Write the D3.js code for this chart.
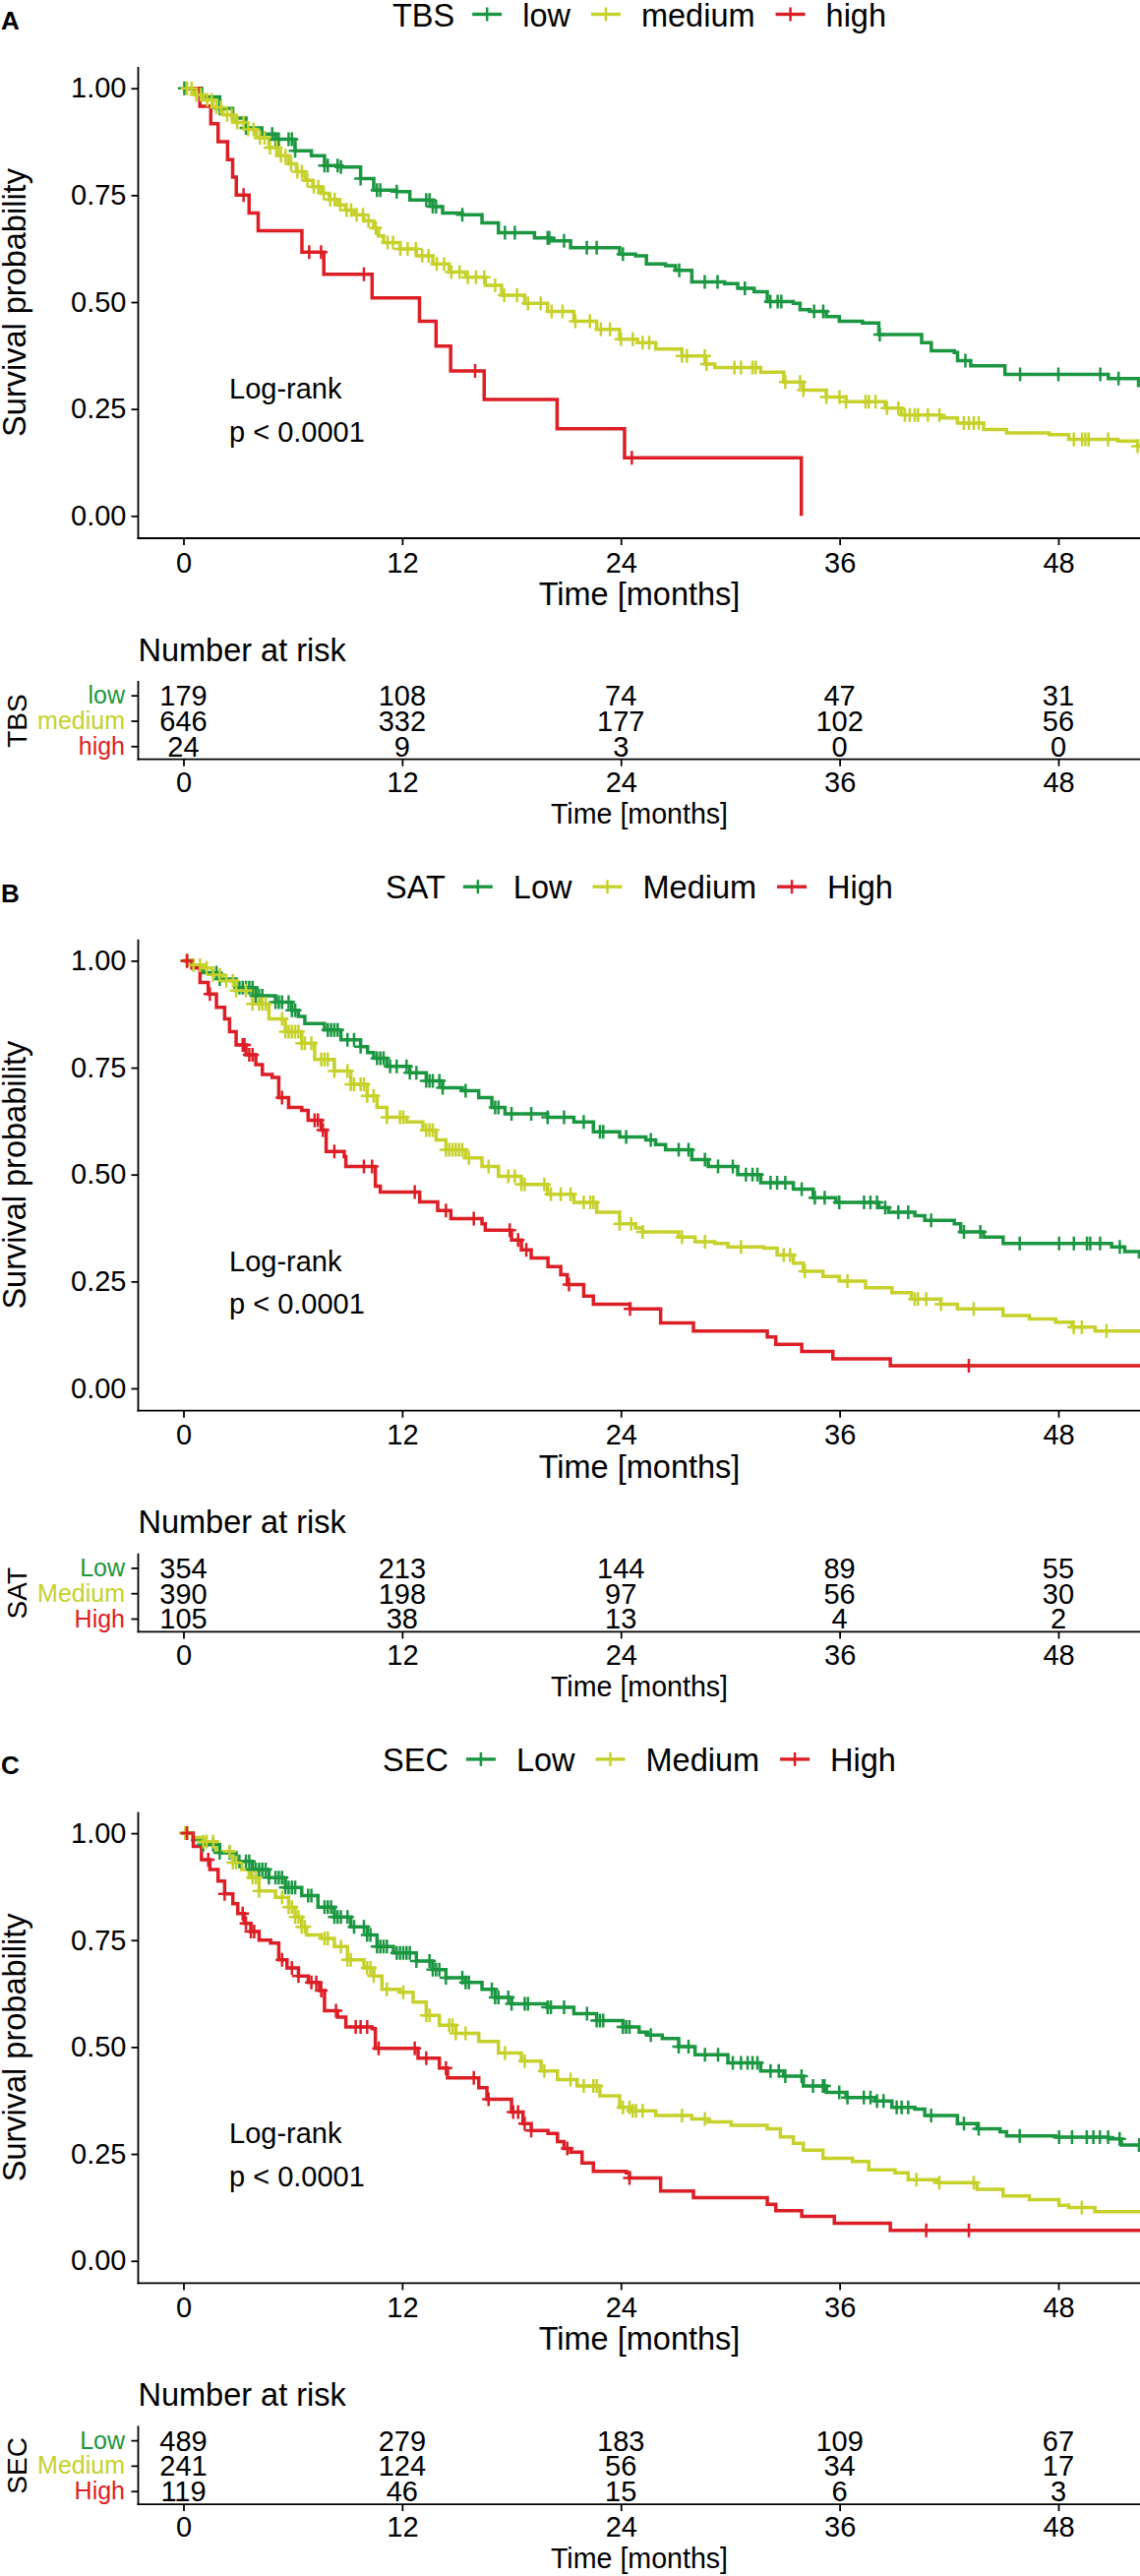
<!DOCTYPE html>
<html>
<head>
<meta charset="utf-8">
<script src="https://cdn.jsdelivr.net/npm/d3@7"></script>
<style>
  body { margin: 0; background: #fff; }
  svg { display: block; font-family: "Liberation Sans", Arial, Helvetica, sans-serif; }
</style>
</head>
<body>
<svg id="chart" width="1159" height="2618"></svg>
<script>
// ---- data ----
var timeTicks = [0, 12, 24, 36, 48];
var survTicks = [0, 0.25, 0.5, 0.75, 1];
var panelLetters = ["A", "B", "C"];
var factorNames = ["TBS", "SAT", "SEC"];
var groupsTBS = ["low", "medium", "high"];
var groupsOther = ["Low", "Medium", "High"];
var groupColors = ["#1b9641", "#c6d12c", "#dc1f26"];

// number at risk at 0, 12, 24, 36, 48 months
var riskTBS = [[179, 108, 74, 47, 31], [646, 332, 177, 102, 56], [24, 9, 3, 0, 0]];
var riskSAT = [[354, 213, 144, 89, 55], [390, 198, 97, 56, 30], [105, 38, 13, 4, 2]];
var riskSEC = [[489, 279, 183, 109, 67], [241, 124, 56, 34, 17], [119, 46, 15, 6, 3]];

// Kaplan-Meier steps [months, survival]
var tbsLow = [[0,1],[1.0,0.98],[1.99,0.953],[2.7,0.93],[3.43,0.907],[4.3,0.893],[5.05,0.881],[6.12,0.854],[7.02,0.842],[7.74,0.819],[8.64,0.816],[9.72,0.789],[10.44,0.762],[11.7,0.758],[12.42,0.739],[13.68,0.723],[14.22,0.708],[15.3,0.704],[16.38,0.685],[17.28,0.662],[19.26,0.65],[20.16,0.643],[21.24,0.627],[23.93,0.612],[24.8,0.608],[25.4,0.589],[26.45,0.585],[27.0,0.574],[27.89,0.547],[29.69,0.543],[30.41,0.532],[31.31,0.524],[32.03,0.501],[33.46,0.497],[33.83,0.482],[34.37,0.478],[35.27,0.466],[35.98,0.455],[37.25,0.451],[38.15,0.424],[40.5,0.405],[41.03,0.386],[42.29,0.382],[42.47,0.363],[43.19,0.351],[45.07,0.331],[50.74,0.321],[52.4,0.305],[53,0.305]];
var tbsMedium = [[0,1],[0.6,0.985],[1.09,0.973],[1.6,0.955],[2.17,0.938],[2.8,0.92],[3.43,0.904],[4.0,0.884],[4.69,0.861],[5.2,0.842],[5.77,0.823],[6.2,0.805],[6.66,0.785],[7.1,0.77],[7.56,0.754],[8.0,0.74],[8.46,0.727],[8.9,0.715],[9.36,0.704],[9.9,0.69],[10.44,0.673],[10.7,0.655],[10.98,0.639],[11.88,0.624],[12.78,0.608],[13.68,0.589],[14.58,0.57],[15.48,0.558],[16.56,0.539],[17.46,0.516],[18.72,0.497],[19.98,0.478],[21.42,0.455],[22.67,0.436],[23.93,0.413],[24.9,0.405],[25.91,0.39],[27.35,0.374],[28.61,0.355],[29.15,0.347],[31.67,0.336],[32.93,0.313],[34.01,0.294],[35.27,0.278],[36.35,0.267],[38.5,0.252],[39.4,0.236],[41.56,0.229],[42.46,0.217],[43.9,0.202],[45.16,0.194],[47.5,0.19],[48.57,0.179],[51.27,0.175],[52.35,0.163],[53,0.163]];
var tbsHigh = [[0,1],[0.9,0.958],[1.5,0.917],[1.9,0.875],[2.42,0.833],[2.7,0.792],[2.9,0.75],[3.6,0.708],[4.1,0.667],[6.5,0.617],[7.7,0.565],[10.35,0.51],[12.95,0.455],[13.86,0.397],[14.66,0.339],[16.5,0.272],[20.5,0.204],[24.2,0.136],[33.9,0]];

var satLow = [[0,1],[0.5,0.985],[1.09,0.972],[1.99,0.957],[2.89,0.937],[3.97,0.918],[5.05,0.903],[5.95,0.884],[6.3,0.87],[6.66,0.853],[7.74,0.838],[8.64,0.815],[9.72,0.799],[10.1,0.785],[10.44,0.772],[11.16,0.753],[12.42,0.738],[13.32,0.719],[14.22,0.703],[15.3,0.696],[16.2,0.68],[16.92,0.657],[17.64,0.642],[19.98,0.634],[21.42,0.623],[22.49,0.6],[23.93,0.588],[25.37,0.581],[25.9,0.57],[26.45,0.558],[27.89,0.535],[28.79,0.519],[30.41,0.5],[31.67,0.481],[33.46,0.466],[34.55,0.446],[35.8,0.435],[38.15,0.423],[38.69,0.412],[40.13,0.404],[40.67,0.393],[42.29,0.385],[42.64,0.366],[43.9,0.354],[44.97,0.339],[50.92,0.331],[51.64,0.32],[52.45,0.308],[53,0.308]];
var satMedium = [[0,1],[0.5,0.99],[1.09,0.983],[1.6,0.967],[2.17,0.953],[2.89,0.93],[3.79,0.899],[4.69,0.864],[5.59,0.834],[6.49,0.807],[7.2,0.769],[8.28,0.742],[9.18,0.711],[10.08,0.684],[10.62,0.657],[11.16,0.634],[12.24,0.623],[13.14,0.604],[13.86,0.581],[14.4,0.558],[15.48,0.539],[16.38,0.519],[17.28,0.496],[18.54,0.477],[19.98,0.454],[21.42,0.435],[22.67,0.412],[23.93,0.385],[24.8,0.375],[25.19,0.366],[27.17,0.354],[28.07,0.343],[29.15,0.339],[29.87,0.331],[31.85,0.328],[32.57,0.312],[33.46,0.293],[34.01,0.274],[35.09,0.262],[35.98,0.251],[37.42,0.235],[38.87,0.224],[39.94,0.209],[41.56,0.197],[42.46,0.186],[44.97,0.17],[46.41,0.162],[47.85,0.155],[48.75,0.143],[50.02,0.134],[53,0.134]];
var satHigh = [[0,1],[0.46,0.983],[0.91,0.949],[1.36,0.922],[1.81,0.891],[2.26,0.864],[2.53,0.834],[2.89,0.803],[3.43,0.78],[3.97,0.757],[4.33,0.734],[4.87,0.727],[5.23,0.68],[5.77,0.657],[6.49,0.65],[6.84,0.627],[7.56,0.604],[7.83,0.554],[8.82,0.542],[8.91,0.519],[10.53,0.473],[10.8,0.459],[12.96,0.436],[13.95,0.416],[14.67,0.397],[16.38,0.385],[16.56,0.37],[18.0,0.347],[18.54,0.324],[19.08,0.305],[20.0,0.285],[20.7,0.266],[21.06,0.243],[21.96,0.216],[22.49,0.197],[24.5,0.186],[26.18,0.153],[27.98,0.134],[32.03,0.12],[32.5,0.103],[33.92,0.086],[35.63,0.069],[38.78,0.053],[53,0.053]];

var secLow = [[0,1],[0.5,0.985],[1.09,0.973],[1.99,0.954],[2.89,0.934],[3.79,0.915],[4.69,0.896],[5.59,0.873],[6.49,0.854],[7.38,0.827],[8.28,0.804],[9.18,0.781],[10.08,0.762],[10.62,0.735],[11.52,0.72],[12.78,0.701],[13.68,0.681],[14.4,0.662],[15.48,0.651],[16.38,0.635],[17.1,0.616],[18.0,0.601],[19.98,0.593],[21.42,0.578],[22.67,0.562],[24.11,0.547],[25.0,0.535],[25.46,0.528],[26.27,0.52],[27.17,0.501],[28.07,0.482],[29.87,0.463],[31.67,0.444],[32.93,0.432],[34.01,0.409],[35.27,0.394],[36.35,0.382],[37.96,0.374],[38.87,0.359],[40.13,0.355],[40.67,0.34],[42.46,0.321],[43.54,0.309],[44.8,0.302],[45.16,0.292],[47.85,0.289],[50.74,0.285],[51.46,0.271],[52.45,0.259],[53,0.259]];
var secMedium = [[0,1],[0.5,0.99],[1.09,0.98],[1.81,0.957],[2.71,0.931],[3.2,0.915],[3.61,0.896],[4.15,0.865],[5.05,0.85],[5.77,0.827],[6.13,0.804],[6.49,0.781],[6.75,0.762],[7.56,0.754],[8.28,0.735],[9.0,0.704],[9.9,0.685],[10.44,0.666],[10.89,0.635],[11.88,0.628],[12.6,0.605],[13.32,0.574],[14.04,0.551],[14.94,0.532],[16.2,0.513],[17.28,0.486],[18.54,0.467],[19.62,0.444],[20.52,0.424],[21.6,0.409],[22.85,0.386],[23.93,0.359],[24.6,0.351],[25.91,0.34],[27.89,0.332],[28.79,0.325],[30.05,0.317],[32.03,0.309],[32.75,0.29],[33.46,0.275],[34.01,0.259],[35.09,0.24],[36.71,0.232],[37.6,0.213],[39.04,0.206],[39.76,0.19],[41.38,0.183],[43.54,0.167],[44.97,0.152],[46.41,0.143],[48.03,0.13],[48.57,0.125],[50.0,0.115],[53,0.115]];
var secHigh = [[0,1],[0.54,0.969],[0.99,0.938],[1.45,0.915],[1.9,0.888],[2.26,0.858],[2.71,0.835],[2.98,0.812],[3.34,0.789],[3.7,0.77],[4.15,0.75],[4.78,0.743],[5.23,0.704],[5.68,0.685],[6.31,0.666],[6.85,0.651],[7.47,0.632],[7.74,0.585],[8.46,0.57],[8.91,0.547],[10.35,0.543],[10.53,0.497],[12.87,0.474],[14.04,0.451],[14.49,0.428],[16.2,0.405],[16.65,0.378],[18.0,0.348],[18.63,0.321],[19.08,0.305],[20.0,0.298],[20.52,0.279],[20.88,0.263],[21.24,0.254],[21.87,0.229],[22.49,0.209],[24.3,0.206],[24.47,0.194],[26.18,0.163],[27.98,0.148],[32.03,0.132],[32.5,0.117],[33.92,0.104],[35.71,0.088],[38.78,0.071],[53,0.071]];

// censoring times (months)
var tbsLowCens = [0.05,1.99,3.43,4.87,5.05,5.23,5.77,5.95,6.13,7.74,7.92,8.46,8.64,9.72,10.62,10.8,11.7,13.32,13.5,13.68,13.86,15.3,17.64,18.18,19.98,20.07,20.88,22.13,22.67,24.11,27.2,28.6,29.3,30.8,32.2,32.6,32.8,34.6,35.1,38.2,42.9,45.9,48.0,50.3,51.3];
var tbsMediumCens = [0.2,0.45,0.7,0.95,1.3,1.55,1.8,2.05,2.4,2.65,2.95,3.3,3.55,3.85,4.2,4.45,4.75,5.1,5.35,5.6,5.9,6.25,6.5,6.8,7.15,7.4,7.7,8.05,8.3,8.6,8.95,9.2,9.5,9.85,10.15,10.55,11.2,11.5,11.9,12.3,12.75,13.1,13.45,13.9,14.3,14.7,15.15,15.6,16.05,16.5,17.1,17.6,18.3,18.9,19.6,20.2,20.8,21.5,22.3,22.9,23.4,24.0,24.65,25.19,25.55,27.35,27.62,28.6,28.7,30.23,30.59,31.22,31.4,33.02,33.83,34.01,35.27,35.99,36.35,37.42,37.6,37.97,38.6,39.22,39.58,39.85,40.12,40.3,40.84,41.47,42.82,43.09,43.36,43.63,48.85,49.3,49.48,49.66,50.73,52.35];
var tbsHighCens = [3.3,6.9,7.55,9.9,16.0,24.6];

var satLowCens = [0.19,1.81,1.99,3.07,3.25,3.43,3.61,3.79,3.97,4.15,4.33,5.05,5.23,5.41,5.77,5.95,6.13,7.92,8.1,8.28,8.46,9.0,9.36,9.72,10.62,10.8,10.98,11.34,11.7,12.24,12.42,12.78,13.32,13.5,13.68,14.04,14.22,15.48,17.1,17.28,18.0,19.08,19.98,20.88,21.96,22.85,23.03,24.29,25.64,27.17,27.71,28.61,29.33,30.14,30.86,31.22,31.49,32.21,32.57,33.02,33.92,34.64,35.18,35.98,37.34,37.69,38.05,38.5,39.22,39.76,41.02,42.82,43.72,45.88,48.04,48.85,49.57,49.75,50.29,51.37];
var satMediumCens = [0.19,0.55,0.91,1.27,1.63,1.99,2.35,2.71,2.89,3.43,3.79,4.15,4.33,4.51,5.41,5.59,5.77,5.95,6.13,6.31,6.49,6.66,7.02,7.56,7.74,7.92,8.28,9.0,9.18,9.36,9.72,9.9,10.08,10.44,11.16,11.88,12.06,13.32,13.5,13.68,14.4,14.58,14.76,14.94,15.12,15.3,15.66,16.74,17.82,18.18,18.54,18.72,19.8,20.16,20.7,21.24,21.96,22.32,22.49,23.93,24.56,25.19,27.35,28.61,30.59,32.93,33.28,34.09,36.43,40.12,40.3,40.75,41.56,43.36,48.84,49.29,50.64];
var satHighCens = [0.2,1.45,3.25,3.35,3.61,3.79,5.41,7.2,7.38,7.65,8.28,9.9,10.35,12.69,14.4,15.93,17.9,18.36,18.81,21.15,24.5,43.09];

var secLowCens = [0.19,1.09,1.63,1.99,2.53,3.07,3.43,3.61,3.79,3.97,4.15,4.33,4.51,4.69,5.05,5.23,5.41,5.59,5.77,5.95,6.13,6.84,7.02,7.74,7.92,8.1,8.28,8.46,8.64,9.0,9.36,9.9,10.08,10.26,10.62,10.8,10.98,11.16,11.7,11.88,12.06,12.24,12.42,12.78,13.5,13.68,13.86,14.04,14.4,15.3,15.48,15.66,16.92,17.1,17.28,17.82,18.0,18.72,18.9,19.98,20.16,20.88,22.14,22.67,22.85,23.03,24.11,24.29,24.47,25.64,27.17,27.71,28.61,29.33,30.14,30.59,30.95,31.22,31.49,32.21,32.66,33.02,33.91,34.54,35.08,35.17,35.98,36.43,37.33,37.69,38.05,38.41,39.13,39.4,39.76,41.02,42.82,43.63,45.88,48.04,48.75,49.56,49.92,50.28,50.73,51.36,52.44];
var secMediumCens = [0.1,0.19,1.09,1.27,1.63,2.53,2.71,2.89,3.79,3.97,4.15,5.41,5.77,5.95,6.13,6.31,6.49,6.66,7.74,7.92,8.64,9.0,9.18,10.08,10.26,10.44,11.16,12.06,13.32,13.5,14.58,14.76,14.94,15.48,17.64,18.72,19.8,21.24,21.96,22.49,22.67,24.11,24.47,24.65,24.83,25.19,27.35,28.61,40.21,41.47,43.36,49.29];
var secHighCens = [0.19,1.36,2.26,3.25,3.43,3.7,3.88,5.41,5.95,6.31,7.02,7.29,7.56,8.37,9.45,9.72,10.08,10.71,12.69,13.32,14.4,15.93,16.74,18.09,18.36,18.72,19.08,21.06,24.47,40.75,43.09];

var panels = [
  { curves: [tbsLow, tbsMedium, tbsHigh], cens: [tbsLowCens, tbsMediumCens, tbsHighCens], groups: groupsTBS, risk: riskTBS },
  { curves: [satLow, satMedium, satHigh], cens: [satLowCens, satMediumCens, satHighCens], groups: groupsOther, risk: riskSAT },
  { curves: [secLow, secMedium, secHigh], cens: [secLowCens, secMediumCens, secHighCens], groups: groupsOther, risk: riskSEC }
];

// ---- layout ----
var svg = d3.select("#chart");
var panelPitch = 886.7;
var plotLeft = 140.5, plotRight = 1159, plotTop = 68, plotBottom = 547;
var x = d3.scaleLinear().domain([0, 48]).range([186.5, 1076]);
var y = d3.scaleLinear().domain([0, 1]).range([524.3, 89.7]);
var bigFont = 32.5, tickFont = 29;

function survAt(steps, t) {
  var s = steps[0][1];
  for (var i = 0; i < steps.length; i++) {
    if (steps[i][0] <= t) s = steps[i][1];
  }
  return s;
}

var kmLine = d3.line()
  .curve(d3.curveStepAfter)
  .x(function(d){ return x(d[0]); })
  .y(function(d){ return y(d[1]); });

function drawLegend(g, title, groups) {
  var lg = g.append("g").attr("class", "legend");
  var cx = 0;
  var t = lg.append("text").attr("x", cx).attr("y", 26.5)
    .attr("font-size", bigFont).text(title);
  cx += t.node().getComputedTextLength() + 18;
  groups.forEach(function(name, i) {
    lg.append("line").attr("x1", cx).attr("x2", cx + 30).attr("y1", 14.5).attr("y2", 14.5)
      .attr("stroke", groupColors[i]).attr("stroke-width", 3.4);
    lg.append("line").attr("x1", cx + 15).attr("x2", cx + 15).attr("y1", 7.5).attr("y2", 21.5)
      .attr("stroke", groupColors[i]).attr("stroke-width", 2.5);
    cx += 30 + 21;
    var lt = lg.append("text").attr("x", cx).attr("y", 26.5)
      .attr("font-size", bigFont).text(name);
    cx += lt.node().getComputedTextLength() + 21;
  });
  var w = cx - 21;
  lg.attr("transform", "translate(" + (650 - w / 2) + ",0)");
}

panels.forEach(function(p, pi) {
  var g = svg.append("g").attr("transform", "translate(0," + (pi * panelPitch) + ")");

  g.append("text").attr("x", 1).attr("y", 30)
    .attr("font-size", 26).attr("font-weight", "bold").text(panelLetters[pi]);

  drawLegend(g, factorNames[pi], p.groups);

  // clip for the curves
  var clipId = "clip" + pi;
  g.append("clipPath").attr("id", clipId).append("rect")
    .attr("x", plotLeft).attr("y", plotTop - 10)
    .attr("width", plotRight - plotLeft).attr("height", plotBottom - plotTop + 10);

  var plot = g.append("g").attr("clip-path", "url(#" + clipId + ")");

  p.curves.forEach(function(steps, i) {
    plot.append("path")
      .datum(steps)
      .attr("d", kmLine)
      .attr("fill", "none")
      .attr("stroke", groupColors[i])
      .attr("stroke-width", 3.5);
  });

  p.cens.forEach(function(times, i) {
    var steps = p.curves[i];
    var marks = plot.append("g").attr("stroke", groupColors[i]).attr("stroke-width", 2.5);
    marks.selectAll("path")
      .data(times)
      .enter()
      .append("path")
      .attr("d", function(t) {
        var px = x(t), py = y(survAt(steps, t));
        return "M" + (px - 6.5) + "," + py + "H" + (px + 6.5) + "M" + px + "," + (py - 7) + "V" + (py + 7);
      });
  });

  // axes
  var xa = g.append("g").attr("transform", "translate(0," + plotBottom + ")")
    .call(d3.axisBottom(x).tickValues(timeTicks).tickSize(7).tickSizeOuter(0).tickPadding(7));
  var ya = g.append("g").attr("transform", "translate(" + plotLeft + ",0)")
    .call(d3.axisLeft(y).tickValues(survTicks).tickFormat(d3.format(".2f")).tickSize(7).tickSizeOuter(0).tickPadding(5));
  [xa, ya].forEach(function(a) {
    a.select(".domain").remove();
    a.selectAll("line").attr("stroke", "#000").attr("stroke-width", 1.8);
    a.selectAll("text").attr("font-size", tickFont).attr("fill", "#000").attr("font-family", null);
  });
  g.append("line").attr("x1", plotLeft).attr("x2", plotLeft).attr("y1", plotTop).attr("y2", plotBottom + 0.9)
    .attr("stroke", "#000").attr("stroke-width", 1.8);
  g.append("line").attr("x1", plotLeft - 0.9).attr("x2", plotRight).attr("y1", plotBottom).attr("y2", plotBottom)
    .attr("stroke", "#000").attr("stroke-width", 1.8);

  g.append("text").attr("x", 650).attr("y", 615).attr("text-anchor", "middle")
    .attr("font-size", bigFont).text("Time [months]");
  g.append("text").attr("transform", "translate(26,307.5) rotate(-90)").attr("text-anchor", "middle")
    .attr("font-size", bigFont).text("Survival probability");

  g.append("text").attr("x", 233).attr("y", 405).attr("font-size", tickFont).text("Log-rank");
  g.append("text").attr("x", 233).attr("y", 448.5).attr("font-size", tickFont).text("p < 0.0001");

  // ---- risk table ----
  var tableTop = 692, tableBottom = 771.7;
  var row = d3.scalePoint().domain(p.groups).range([706.7, 758.3]);

  g.append("text").attr("x", plotLeft).attr("y", 671.5).attr("font-size", bigFont).text("Number at risk");

  p.risk.forEach(function(vals, i) {
    g.append("g").selectAll("text")
      .data(vals)
      .enter()
      .append("text")
      .attr("x", function(d, j){ return x(timeTicks[j]); })
      .attr("y", row(p.groups[i]))
      .attr("dy", "0.36em")
      .attr("text-anchor", "middle")
      .attr("font-size", tickFont)
      .text(function(d){ return d; });
  });

  var ra = g.append("g").attr("transform", "translate(" + plotLeft + ",0)")
    .call(d3.axisLeft(row).tickSize(7).tickSizeOuter(0).tickPadding(6.5));
  ra.select(".domain").remove();
  ra.selectAll("line").attr("stroke", "#000").attr("stroke-width", 1.8);
  ra.selectAll("text").attr("font-size", 25).attr("font-family", null)
    .attr("fill", function(d, i){ return groupColors[i]; });

  var rb = g.append("g").attr("transform", "translate(0," + tableBottom + ")")
    .call(d3.axisBottom(x).tickValues(timeTicks).tickSize(7).tickSizeOuter(0).tickPadding(5.7));
  rb.select(".domain").remove();
  rb.selectAll("line").attr("stroke", "#000").attr("stroke-width", 1.8);
  rb.selectAll("text").attr("font-size", tickFont).attr("fill", "#000").attr("font-family", null);

  g.append("line").attr("x1", plotLeft).attr("x2", plotLeft).attr("y1", tableTop).attr("y2", tableBottom + 0.9)
    .attr("stroke", "#000").attr("stroke-width", 1.8);
  g.append("line").attr("x1", plotLeft - 0.9).attr("x2", plotRight).attr("y1", tableBottom).attr("y2", tableBottom)
    .attr("stroke", "#000").attr("stroke-width", 1.8);

  g.append("text").attr("x", 650).attr("y", 837).attr("text-anchor", "middle")
    .attr("font-size", 28.6).text("Time [months]");
  g.append("text").attr("transform", "translate(27,732.5) rotate(-90)").attr("text-anchor", "middle")
    .attr("font-size", 28).text(factorNames[pi]);
});
</script>
</body>
</html>
